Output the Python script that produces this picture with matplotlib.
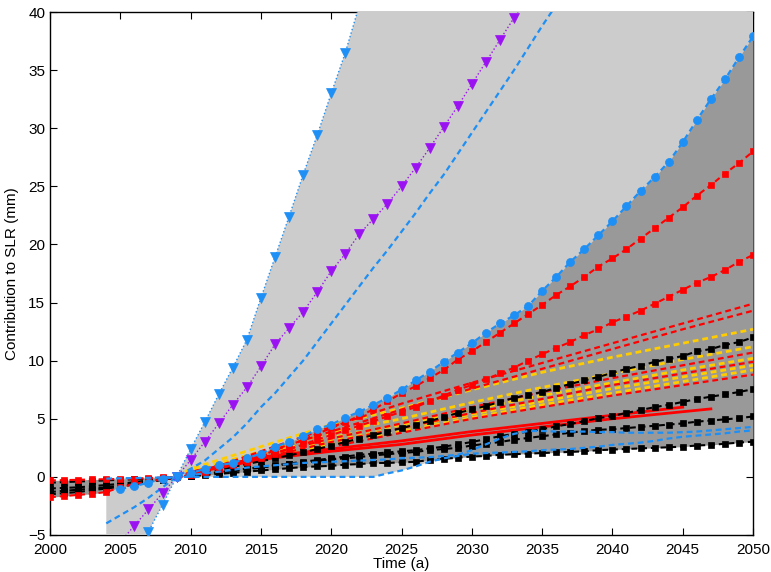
import numpy as np
import matplotlib.pyplot as plt

plt.rcParams['font.family'] = ['Liberation Sans', 'DejaVu Sans']
plt.rcParams['lines.scale_dashes'] = False

# ---- data (mm) ----
years = np.arange(2000, 2051)
years_04 = np.arange(2004, 2051)
years_05 = np.arange(2005, 2051)
years_09 = np.arange(2009, 2051)
years_purple = np.arange(2004, 2035)
years_dash_hi = np.arange(2004, 2038)

# blue triangles (dotted), upper edge of the light envelope
tri_blue = [-12.0, -9.5, -7.1, -4.7, -2.4, 0.0, 2.4, 4.7, 7.1, 9.4, 11.8, 15.4, 18.9,
            22.4, 26.0, 29.4, 33.0, 36.5, 40.6, 44.1, 47.6, 51.1, 54.6, 58.1, 61.6,
            65.1, 68.6, 72.1, 75.6, 79.1, 82.6, 86.1, 89.6, 93.1, 96.6, 100.1, 103.6,
            107.1, 110.6, 114.1, 117.6, 121.1, 124.6, 128.1, 131.6, 135.1, 138.6]

# purple triangles (dotted)
tri_purple = [-7.0, -5.6, -4.2, -2.8, -1.4, 0.0, 1.45, 3.0, 4.6, 6.2, 7.7, 9.5, 11.4,
              12.8, 14.2, 15.9, 17.7, 19.2, 20.9, 22.2, 23.5, 25.0, 26.6, 28.3, 30.1,
              31.9, 33.8, 35.7, 37.6, 39.5, 41.4]

# blue dashed, upper
dash_hi = [-4.0, -3.3, -2.6, -1.8, -0.9, 0.0, 0.7, 1.4, 2.4, 3.4, 4.6, 6.0, 7.2, 8.6,
           10.0, 11.6, 13.2, 14.8, 16.4, 18.0, 19.5, 21.1, 22.7, 24.4, 26.0, 27.8,
           29.6, 31.4, 33.2, 35.0, 36.9, 38.8, 40.6, 42.5]

# blue circles
circles = [-1.05, -0.8, -0.5, -0.15, 0.0,
           0.3, 0.7, 1.0, 1.2, 1.6, 2.0, 2.6, 3.0, 3.5, 4.1,
           4.5, 5.1, 5.6, 6.2, 6.8, 7.5, 8.3, 9.05, 9.9, 10.7,
           11.5, 12.4, 13.2, 13.9, 14.7, 16.0, 17.2, 18.5, 19.6, 20.8,
           22.0, 23.3, 24.6, 25.8, 27.1, 28.8, 30.7, 32.5, 34.2, 36.1, 37.9]

# red squares
red_sq1 = [-1.75, -1.65, -1.55, -1.45, -1.3, -0.9, -0.6, -0.4, -0.2, -0.05,
           0.2, 0.5, 0.8, 1.1, 1.45, 1.8, 2.3, 2.7, 3.2, 3.7,
           4.2, 4.7, 5.25, 5.8, 6.5, 7.2, 7.8, 8.5, 9.2, 10.1,
           10.8, 11.6, 12.4, 13.2, 14.0, 14.8, 15.65, 16.4, 17.2, 18.1,
           18.8, 19.6, 20.5, 21.4, 22.3, 23.2, 24.2, 25.1, 26.1, 27.0, 28.0]
red_sq2 = [-0.3, -0.28, -0.25, -0.22, -0.2, -0.18, -0.15, -0.1, -0.05, 0.0,
           0.2, 0.45, 0.7, 1.0, 1.3, 1.65, 2.0, 2.4, 2.8, 3.2,
           3.6, 4.0, 4.4, 4.8, 5.2, 5.6, 6.0, 6.5, 7.0, 7.5,
           7.9, 8.4, 8.9, 9.4, 10.0, 10.55, 11.1, 11.6, 12.2, 12.7,
           13.3, 13.8, 14.3, 14.9, 15.5, 16.1, 16.7, 17.2, 17.8, 18.5, 19.1]

# black squares
blk_sq1 = [-0.5, -0.45, -0.4, -0.35, -0.3, -0.25, -0.2, -0.15, -0.1, 0.0,
           0.2, 0.4, 0.6, 0.85, 1.1, 1.35, 1.6, 1.85, 2.1, 2.4,
           2.7, 3.0, 3.3, 3.6, 3.9, 4.2, 4.5, 4.8, 5.15, 5.5,
           5.8, 6.1, 6.45, 6.8, 7.05, 7.3, 7.65, 8.0, 8.3, 8.6,
           8.95, 9.3, 9.55, 9.9, 10.15, 10.4, 10.8, 11.0, 11.35, 11.6, 12.0]
blk_sq2 = [-1.5, -1.4, -1.3, -1.15, -1.0, -0.85, -0.65, -0.45, -0.25, -0.05,
           0.1, 0.25, 0.4, 0.55, 0.7, 0.85, 1.0, 1.15, 1.3, 1.45,
           1.6, 1.75, 1.9, 2.0, 2.1, 2.2, 2.3, 2.45, 2.6, 2.8,
           3.0, 3.25, 3.5, 3.7, 3.9, 4.1, 4.35, 4.55, 4.8, 5.05,
           5.25, 5.5, 5.75, 6.0, 6.2, 6.45, 6.7, 6.9, 7.1, 7.3, 7.55]
blk_sq3 = [-1.0, -0.95, -0.9, -0.8, -0.7, -0.6, -0.45, -0.3, -0.2, -0.05,
           0.1, 0.25, 0.4, 0.5, 0.65, 0.8, 0.95, 1.1, 1.2, 1.35,
           1.5, 1.6, 1.7, 1.85, 1.95, 2.05, 2.15, 2.3, 2.4, 2.5,
           2.7, 2.85, 3.0, 3.2, 3.35, 3.5, 3.65, 3.8, 3.95, 4.05,
           4.1, 4.2, 4.3, 4.4, 4.5, 4.6, 4.75, 4.85, 4.95, 5.05, 5.2]
blk_sq4 = [-1.3, -1.2, -1.1, -1.0, -0.9, -0.75, -0.6, -0.4, -0.25, -0.05,
           0.05, 0.15, 0.25, 0.35, 0.45, 0.55, 0.65, 0.75, 0.85, 0.9,
           0.95, 1.05, 1.1, 1.2, 1.2, 1.25, 1.3, 1.45, 1.55, 1.65,
           1.75, 1.8, 1.9, 1.95, 2.0, 2.05, 2.1, 2.15, 2.2, 2.3,
           2.35, 2.4, 2.45, 2.5, 2.55, 2.6, 2.7, 2.75, 2.85, 2.95, 3.03]

# blue dashed, lower ones
dash_lo1 = [-0.15, -0.12, -0.1, -0.08, -0.05, 0.0,
            0.0, 0.0, 0.0, 0.0, 0.0, 0.0, 0.0, 0.0, 0.0, 0.0,
            0.0, 0.0, 0.0, 0.0, 0.3, 0.55, 0.9, 1.3, 1.6, 1.8,
            2.0, 2.05, 2.1, 2.15, 2.2, 2.3, 2.35, 2.4, 2.5, 2.6,
            2.75, 2.85, 2.95, 3.1, 3.3, 3.45, 3.55, 3.65, 3.75, 3.9, 4.0]
dash_lo2 = [0.0,
            0.15, 0.3, 0.45, 0.6, 0.8, 0.9, 1.0, 1.1, 1.2, 1.25,
            1.3, 1.35, 1.4, 1.45, 1.5, 1.6, 1.65, 1.7, 1.8, 1.9,
            2.3, 2.8, 3.3, 3.7, 3.95, 3.95, 3.9, 3.9, 3.9, 3.85,
            3.85, 3.8, 3.8, 3.8, 3.8, 3.85, 3.9, 4.0, 4.1, 4.2, 4.3]

# dashed bundle (no markers)
band_years = [2009, 2010, 2015, 2020, 2025, 2030, 2035, 2040, 2045, 2050]
red_dash = [
    [0.0, 0.1, 2.2, 4.3, 6.3, 8.1, 9.8, 11.5, 13.2, 14.9],
    [0.0, 0.1, 2.0, 3.9, 5.8, 7.6, 9.3, 11.0, 12.7, 14.3],
    [0.0, 0.4, 1.8, 3.3, 4.6, 6.0, 7.3, 8.5, 9.6, 10.7],
    [0.0, 0.35, 1.6, 3.0, 4.2, 5.5, 6.7, 7.9, 8.9, 9.9],
    [0.0, 0.3, 1.4, 2.6, 3.8, 5.0, 6.0, 7.0, 7.9, 8.8],
]
yellow_dash = [
    [0.0, 0.7, 2.6, 4.5, 5.9, 7.5, 9.0, 10.3, 11.5, 12.7],
    [0.0, 0.5, 2.2, 3.8, 5.0, 6.4, 7.7, 8.9, 10.1, 11.2],
    [0.0, 0.4, 1.9, 3.4, 4.5, 5.8, 7.0, 8.1, 9.2, 10.2],
    [0.0, 0.35, 1.7, 3.1, 4.2, 5.4, 6.5, 7.6, 8.6, 9.6],
    [0.0, 0.3, 1.5, 2.8, 3.9, 5.1, 6.2, 7.2, 8.2, 9.2],
]

# red solid lines
rs1_years = [2010, 2015, 2020, 2025, 2030, 2035, 2040, 2045]
rs1 = [0.4, 1.7, 2.4, 3.1, 3.9, 4.6, 5.3, 6.0]
rs2_years = [2010, 2015, 2020, 2025, 2030, 2035, 2040, 2047]
rs2 = [0.3, 1.5, 2.2, 2.8, 3.6, 4.3, 5.0, 5.85]

BLUE = '#1e8ff5'
PURPLE = '#9b12f2'
RED = '#ff0000'
YELLOW = '#ffcc00'

fig = plt.figure(figsize=(7.71, 5.72), dpi=100)
ax = fig.add_axes([0.0649, 0.0647, 0.9118, 0.9143])

# envelopes
ax.fill_between(years_04, tri_blue, dash_lo1, color='#cccccc', lw=0, zorder=3)
sq = np.array([red_sq1, red_sq2, blk_sq1, blk_sq2, blk_sq3, blk_sq4])
circ_full = np.full(len(years), np.nan)
circ_full[5:] = circles
top = np.fmax(sq.max(axis=0), circ_full)
ax.fill_between(years, sq.min(axis=0), top, color='#999999', lw=0, zorder=3)

dash = (4.2, 2.8)
for ys in yellow_dash:
    ax.plot(band_years, ys, color=YELLOW, lw=2.0, dashes=dash, zorder=4)
for ys in red_dash:
    ax.plot(band_years, ys, color=RED, lw=1.6, dashes=dash, zorder=4)

ax.plot(rs1_years, rs1, color=RED, lw=2, zorder=5)
ax.plot(rs2_years, rs2, color=RED, lw=2, zorder=5)

for ys in [blk_sq1, blk_sq2, blk_sq3, blk_sq4]:
    ax.plot(years, ys, color='k', lw=1.5, dashes=dash, marker='s', ms=5,
            mew=0.5, zorder=6)
for ys in [red_sq1, red_sq2]:
    ax.plot(years, ys, color=RED, lw=1.5, dashes=dash, marker='s', ms=5,
            mew=0.5, zorder=6)

ax.plot(years_04, dash_lo1, color=BLUE, lw=1.6, dashes=dash, zorder=7)
ax.plot(years_09, dash_lo2, color=BLUE, lw=1.6, dashes=dash, zorder=7)
ax.plot(years_dash_hi, dash_hi, color=BLUE, lw=1.6, dashes=dash, zorder=7)
ax.plot(years_05, circles, color=BLUE, lw=1.6, dashes=dash, marker='o', ms=5.8,
        mew=0.5, zorder=8)
ax.plot(years_purple, tri_purple, color=PURPLE, lw=1, ls=':', marker='v', ms=7,
        mew=0.5, zorder=8)
ax.plot(years_04, tri_blue, color=BLUE, lw=1, ls=':', marker='v', ms=7,
        mew=0.5, zorder=8)

ax.set_xlim(2000, 2050)
ax.set_ylim(-5, 40)
ax.set_xticks(np.arange(2000, 2051, 5))
ax.set_yticks(np.arange(-5, 41, 5))
ax.tick_params(direction='in', length=5, top=True, right=True, labelsize=11, width=0.8)
ax.tick_params(axis='x', pad=6)
for sp in ax.spines.values():
    sp.set_linewidth(1.0)
    sp.set_zorder(2)
ax.set_xlabel('Time (a)', fontsize=11, labelpad=0)
ax.set_ylabel('Contribution to SLR (mm)', fontsize=11, labelpad=6)

fig.savefig('out.png', dpi=100)
